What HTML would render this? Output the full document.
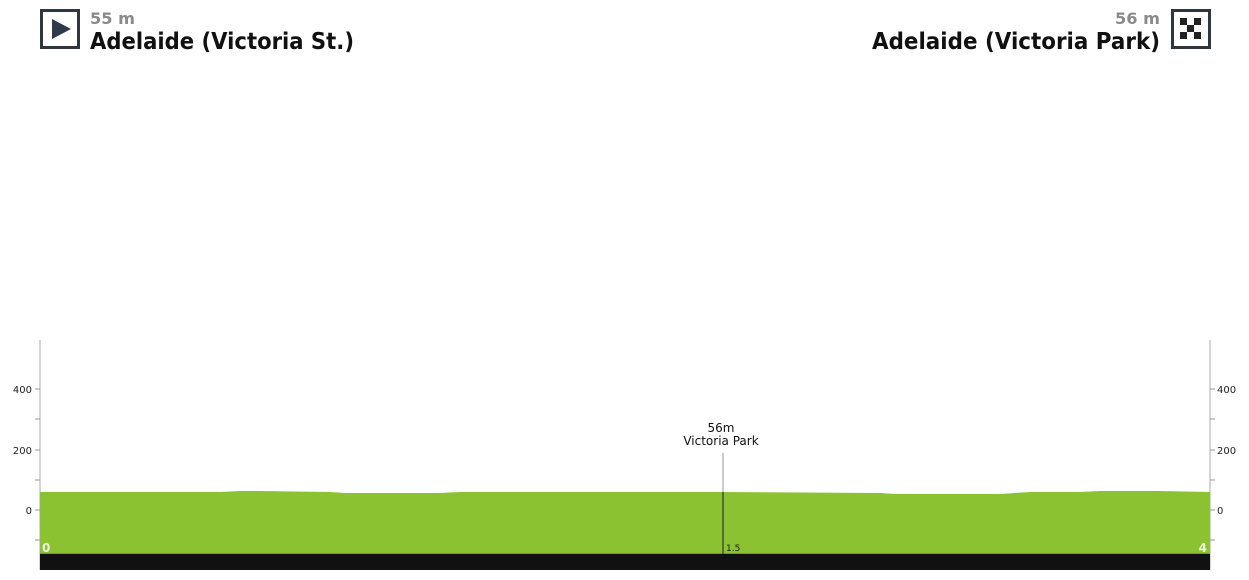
<!DOCTYPE html>
<html><head><meta charset="utf-8"><style>
html,body{margin:0;padding:0;background:#fff;width:1249px;height:580px;overflow:hidden}
svg text{font-family:"DejaVu Sans","Liberation Sans",sans-serif}
</style></head><body>
<svg width="1249" height="580" viewBox="0 0 1249 580" xmlns="http://www.w3.org/2000/svg">
<rect x="41.5" y="10.5" width="37" height="37" fill="#fff" stroke="#2f3640" stroke-width="3"/>
<polygon points="52,19 71,29 52,39" fill="#2f3a4a"/>
<text x="90" y="24" font-size="16" font-weight="bold" fill="#8a8a8a" textLength="45" lengthAdjust="spacingAndGlyphs">55 m</text>
<text x="90" y="49" font-size="23" font-weight="bold" fill="#111" textLength="264" lengthAdjust="spacingAndGlyphs">Adelaide (Victoria St.)</text>
<rect x="1172.5" y="10.5" width="37" height="37" fill="#fff" stroke="#2f3640" stroke-width="3"/>
<g fill="#222">
<rect x="1180" y="18" width="7" height="7"/><rect x="1194" y="18" width="7" height="7"/>
<rect x="1187" y="25" width="7" height="7"/>
<rect x="1180" y="32" width="7" height="7"/><rect x="1194" y="32" width="7" height="7"/>
</g>
<text x="1160" y="24" font-size="16" font-weight="bold" fill="#8a8a8a" text-anchor="end" textLength="45" lengthAdjust="spacingAndGlyphs">56 m</text>
<text x="872" y="49" font-size="23" font-weight="bold" fill="#111" textLength="288" lengthAdjust="spacingAndGlyphs">Adelaide (Victoria Park)</text>
<line x1="40" y1="340" x2="40" y2="570" stroke="#c8c8c8" stroke-width="1.5"/>
<line x1="1210" y1="340" x2="1210" y2="570" stroke="#c8c8c8" stroke-width="1.5"/>
<g stroke="#999" stroke-width="1">
<line x1="35" y1="389" x2="40" y2="389"/><line x1="35" y1="419" x2="40" y2="419"/>
<line x1="35" y1="450" x2="40" y2="450"/><line x1="35" y1="480" x2="40" y2="480"/>
<line x1="35" y1="510" x2="40" y2="510"/><line x1="35" y1="540" x2="40" y2="540"/>
<line x1="1210" y1="389" x2="1215" y2="389"/><line x1="1210" y1="419" x2="1215" y2="419"/>
<line x1="1210" y1="450" x2="1215" y2="450"/><line x1="1210" y1="480" x2="1215" y2="480"/>
<line x1="1210" y1="510" x2="1215" y2="510"/><line x1="1210" y1="540" x2="1215" y2="540"/>
</g>
<g font-size="10" fill="#222">
<text x="32" y="393" text-anchor="end">400</text>
<text x="32" y="454" text-anchor="end">200</text>
<text x="32" y="514" text-anchor="end">0</text>
<text x="1217" y="393">400</text>
<text x="1217" y="454">200</text>
<text x="1217" y="514">0</text>
</g>
<path d="M40,492 L220,492 L240,491 L260,491 L330,492 L345,493 L440,493 L460,492 L720,492 L880,493 L895,494 L1000,494 L1030,492 L1080,492 L1100,491 L1160,491 L1210,492 L1210,554 L40,554 Z" fill="#8bc232"/>
<rect x="40" y="553" width="1170" height="1.5" fill="#6f9a2a"/>
<rect x="40" y="554" width="1170" height="16" fill="#111"/>
<line x1="723" y1="453" x2="723" y2="492" stroke="#aaa" stroke-width="1.2"/>
<line x1="723" y1="492" x2="723" y2="554" stroke="#333" stroke-width="1.2"/>
<text x="721" y="432" font-size="12" fill="#111" text-anchor="middle">56m</text>
<text x="721" y="445" font-size="12" fill="#111" text-anchor="middle">Victoria Park</text>
<text x="726" y="551" font-size="9" fill="#222">1.5</text>
<text x="42" y="552" font-size="12" font-weight="bold" fill="#f0f5e0">0</text>
<text x="1207" y="552" font-size="12" font-weight="bold" fill="#f0f5e0" text-anchor="end">4</text>
</svg>
</body></html>
